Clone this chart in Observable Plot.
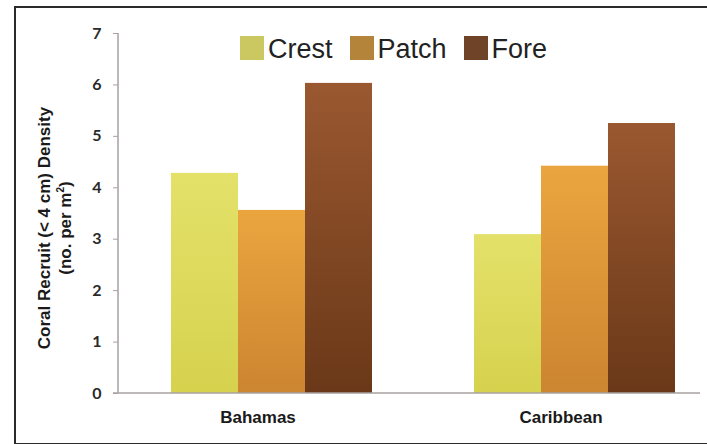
<!DOCTYPE html>
<html>
<head>
<meta charset="utf-8">
<script src="https://cdn.jsdelivr.net/npm/d3@7"></script>
<script src="https://cdn.jsdelivr.net/npm/@observablehq/plot@0.6"></script>
<style>
  html, body { margin: 0; padding: 0; background: #fff; }
  #wrap { position: relative; width: 707px; height: 444px; overflow: hidden; font-family: "Liberation Sans", Arial, sans-serif; }
  #frame { position: absolute; left: 14px; top: 6px; width: 720px; height: 435px; border: 2px solid #2b2b2b; box-sizing: content-box; }
  #chart { position: absolute; left: 0; top: 0; }
  #legend { position: absolute; left: 240px; top: 36px; display: flex; align-items: center; font-size: 27px; color: #222; }
  .item { display: flex; align-items: center; margin-right: 17px; height: 24px; }
  .sw { width: 24px; height: 24px; margin-right: 4px; }
  .lab { position: relative; top: 1px; line-height: 24px; }
  #ytitle { position: absolute; left: 55px; top: 228px; width: 0; height: 0; }
  #ytitle div { position: absolute; transform: translate(-50%, -50%) rotate(-90deg); white-space: nowrap; text-align: center; font-weight: bold; font-size: 17px; line-height: 21px; color: #1a1a1a; }
</style>
</head>
<body>
<div id="wrap">
  <div id="chart"></div>
  <div id="frame"></div>
  <div id="legend"></div>
  <div id="ytitle"><div>Coral Recruit (&lt; 4 cm) Density<br>(no. per m<sup style="font-size:10px;line-height:0">2</sup>)</div></div>
</div>
<script>
const regions = ["Bahamas", "Caribbean"];
const zones = ["Crest", "Patch", "Fore"];
const bahamasValues = [4.28, 3.56, 6.03];
const caribbeanValues = [3.09, 4.42, 5.25];
const yTicks = [0, 1, 2, 3, 4, 5, 6, 7];
const legendColors = ["#cbc862", "#b3843a", "#6e4327"];
const gradTop = ["#e4e16a", "#eba53f", "#9a5830"];
const gradBottom = ["#d6d24e", "#cc8530", "#6a3818"];

const data = [];
zones.forEach((z, i) => {
  data.push({region: regions[0], zone: z, value: bahamasValues[i]});
  data.push({region: regions[1], zone: z, value: caribbeanValues[i]});
});

const gradIds = zones.map(z => "grad-" + z);

const plot = Plot.plot({
  width: 707,
  height: 444,
  marginLeft: 118,
  marginRight: 7,
  marginTop: 33,
  marginBottom: 51,
  style: {background: "transparent", fontFamily: "'Liberation Sans', Arial, sans-serif"},
  fx: {domain: regions, paddingInner: 0.08, paddingOuter: 0, label: null},
  x: {domain: zones, paddingInner: 0, paddingOuter: 0.58, align: 0.68, axis: null},
  y: {domain: [0, 7], axis: null},
  color: {domain: zones, range: gradIds.map(id => `url(#${id})`)},
  marks: [
    Plot.barY(data, {fx: "region", x: "zone", y: "value", fill: "zone"}),
    Plot.axisY({ticks: yTicks, tickFormat: d3.format("d"), tickSize: 5, tickPadding: 12, stroke: "#a8a2a2",
      fontSize: 16, fontWeight: "bold", fill: "#2a2a2a", label: null, fontFamily: "Lato, sans-serif"}),
    Plot.axisFx({anchor: "bottom", tickSize: 0, tickPadding: 17, fontSize: 17, fontWeight: "bold", fill: "#1a1a1a", label: null})
  ]
});

document.getElementById("chart").appendChild(plot);

// gradients
const svg = d3.select(plot);
const defs = svg.insert("defs", ":first-child");
zones.forEach((z, i) => {
  const g = defs.append("linearGradient").attr("id", gradIds[i]).attr("x1", 0).attr("y1", 0).attr("x2", 0).attr("y2", 1);
  g.append("stop").attr("offset", "0%").attr("stop-color", gradTop[i]);
  g.append("stop").attr("offset", "100%").attr("stop-color", gradBottom[i]);
});

// axis lines drawn from the y scale
const ys = plot.scale("y");
svg.append("line")
  .attr("x1", 118).attr("x2", 118)
  .attr("y1", ys.apply(0)).attr("y2", ys.apply(7))
  .attr("stroke", "#a8a2a2").attr("stroke-width", 1.5);
svg.append("line")
  .attr("x1", 113).attr("x2", 700)
  .attr("y1", ys.apply(0)).attr("y2", ys.apply(0))
  .attr("stroke", "#a8a2a2").attr("stroke-width", 1.5);

// legend
const legend = d3.select("#legend");
zones.forEach((z, i) => {
  const it = legend.append("div").attr("class", "item");
  it.append("div").attr("class", "sw").style("background", legendColors[i]);
  it.append("span").attr("class", "lab").text(z);
});
</script>
</body>
</html>
